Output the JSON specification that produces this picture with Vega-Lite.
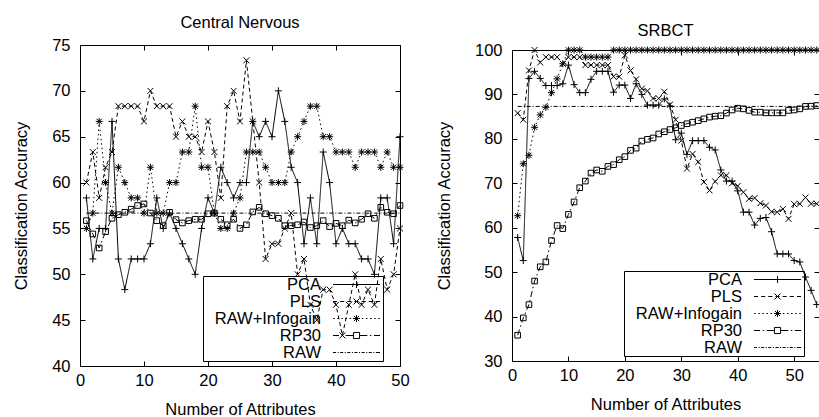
{
"$schema": "https://vega.github.io/schema/vega-lite/v6.json",
"padding": {"left": 13, "top": 14, "right": 0, "bottom": 0},
"background": "white",
"datasets": {
"cns": [
{"x":1,"v":58.33,"m":"PCA"},{"x":2,"v":51.67,"m":"PCA"},{"x":3,"v":55,"m":"PCA"},{"x":4,"v":55,"m":"PCA"},{"x":5,"v":66.67,"m":"PCA"},{"x":6,"v":51.67,"m":"PCA"},{"x":7,"v":48.33,"m":"PCA"},{"x":8,"v":51.67,"m":"PCA"},{"x":9,"v":51.67,"m":"PCA"},{"x":10,"v":51.67,"m":"PCA"},
{"x":11,"v":53.33,"m":"PCA"},{"x":12,"v":58.33,"m":"PCA"},{"x":13,"v":55,"m":"PCA"},{"x":14,"v":56.67,"m":"PCA"},{"x":15,"v":55,"m":"PCA"},{"x":16,"v":53.33,"m":"PCA"},{"x":17,"v":51.67,"m":"PCA"},{"x":18,"v":50,"m":"PCA"},{"x":19,"v":55,"m":"PCA"},{"x":20,"v":58.33,"m":"PCA"},
{"x":21,"v":56.67,"m":"PCA"},{"x":22,"v":61.67,"m":"PCA"},{"x":23,"v":60,"m":"PCA"},{"x":24,"v":58.33,"m":"PCA"},{"x":25,"v":60,"m":"PCA"},{"x":26,"v":60,"m":"PCA"},{"x":27,"v":66.67,"m":"PCA"},{"x":28,"v":65,"m":"PCA"},{"x":29,"v":66.67,"m":"PCA"},{"x":30,"v":65,"m":"PCA"},
{"x":31,"v":70,"m":"PCA"},{"x":32,"v":66.67,"m":"PCA"},{"x":33,"v":61.67,"m":"PCA"},{"x":34,"v":60,"m":"PCA"},{"x":35,"v":53.33,"m":"PCA"},{"x":36,"v":58.33,"m":"PCA"},{"x":37,"v":53.33,"m":"PCA"},{"x":38,"v":63.33,"m":"PCA"},{"x":39,"v":60,"m":"PCA"},{"x":40,"v":53.33,"m":"PCA"},
{"x":41,"v":55,"m":"PCA"},{"x":42,"v":53.33,"m":"PCA"},{"x":43,"v":53.33,"m":"PCA"},{"x":44,"v":51.67,"m":"PCA"},{"x":45,"v":51.67,"m":"PCA"},{"x":46,"v":50,"m":"PCA"},{"x":47,"v":58.33,"m":"PCA"},{"x":48,"v":58.33,"m":"PCA"},{"x":49,"v":53.33,"m":"PCA"},{"x":50,"v":65,"m":"PCA"},
{"x":1,"v":60,"m":"PLS"},{"x":2,"v":63.33,"m":"PLS"},{"x":3,"v":58.33,"m":"PLS"},{"x":4,"v":61.67,"m":"PLS"},{"x":5,"v":63.33,"m":"PLS"},{"x":6,"v":68.33,"m":"PLS"},{"x":7,"v":68.33,"m":"PLS"},{"x":8,"v":68.33,"m":"PLS"},{"x":9,"v":68.33,"m":"PLS"},{"x":10,"v":66.67,"m":"PLS"},
{"x":11,"v":70,"m":"PLS"},{"x":12,"v":68.33,"m":"PLS"},{"x":13,"v":68.33,"m":"PLS"},{"x":14,"v":68.33,"m":"PLS"},{"x":15,"v":65,"m":"PLS"},{"x":16,"v":66.67,"m":"PLS"},{"x":17,"v":65,"m":"PLS"},{"x":18,"v":65,"m":"PLS"},{"x":19,"v":63.33,"m":"PLS"},{"x":20,"v":66.67,"m":"PLS"},
{"x":21,"v":63.33,"m":"PLS"},{"x":22,"v":58.33,"m":"PLS"},{"x":23,"v":68.33,"m":"PLS"},{"x":24,"v":70,"m":"PLS"},{"x":25,"v":66.67,"m":"PLS"},{"x":26,"v":73.33,"m":"PLS"},{"x":27,"v":66.67,"m":"PLS"},{"x":28,"v":60,"m":"PLS"},{"x":29,"v":51.67,"m":"PLS"},{"x":30,"v":53.33,"m":"PLS"},
{"x":31,"v":53.33,"m":"PLS"},{"x":32,"v":55,"m":"PLS"},{"x":33,"v":56.67,"m":"PLS"},{"x":34,"v":50,"m":"PLS"},{"x":35,"v":51.67,"m":"PLS"},{"x":36,"v":46.67,"m":"PLS"},{"x":37,"v":45,"m":"PLS"},{"x":38,"v":48.33,"m":"PLS"},{"x":39,"v":48.33,"m":"PLS"},{"x":40,"v":46.67,"m":"PLS"},
{"x":41,"v":43.33,"m":"PLS"},{"x":42,"v":46.67,"m":"PLS"},{"x":43,"v":50,"m":"PLS"},{"x":44,"v":46.67,"m":"PLS"},{"x":45,"v":48.33,"m":"PLS"},{"x":46,"v":46.67,"m":"PLS"},{"x":47,"v":51.67,"m":"PLS"},{"x":48,"v":48.33,"m":"PLS"},{"x":49,"v":50,"m":"PLS"},{"x":50,"v":55,"m":"PLS"},
{"x":1,"v":55,"m":"RAW+Infogain"},{"x":2,"v":56.67,"m":"RAW+Infogain"},{"x":3,"v":66.67,"m":"RAW+Infogain"},{"x":4,"v":60,"m":"RAW+Infogain"},{"x":5,"v":56.67,"m":"RAW+Infogain"},{"x":6,"v":61.67,"m":"RAW+Infogain"},{"x":7,"v":60,"m":"RAW+Infogain"},{"x":8,"v":58.33,"m":"RAW+Infogain"},{"x":9,"v":58.33,"m":"RAW+Infogain"},{"x":10,"v":56.67,"m":"RAW+Infogain"},
{"x":11,"v":61.67,"m":"RAW+Infogain"},{"x":12,"v":56.67,"m":"RAW+Infogain"},{"x":13,"v":56.67,"m":"RAW+Infogain"},{"x":14,"v":60,"m":"RAW+Infogain"},{"x":15,"v":60,"m":"RAW+Infogain"},{"x":16,"v":63.33,"m":"RAW+Infogain"},{"x":17,"v":63.33,"m":"RAW+Infogain"},{"x":18,"v":68.33,"m":"RAW+Infogain"},{"x":19,"v":61.67,"m":"RAW+Infogain"},{"x":20,"v":61.67,"m":"RAW+Infogain"},
{"x":21,"v":56.67,"m":"RAW+Infogain"},{"x":22,"v":55,"m":"RAW+Infogain"},{"x":23,"v":55,"m":"RAW+Infogain"},{"x":24,"v":56.67,"m":"RAW+Infogain"},{"x":25,"v":58.33,"m":"RAW+Infogain"},{"x":26,"v":63.33,"m":"RAW+Infogain"},{"x":27,"v":63.33,"m":"RAW+Infogain"},{"x":28,"v":63.33,"m":"RAW+Infogain"},{"x":29,"v":61.67,"m":"RAW+Infogain"},{"x":30,"v":60,"m":"RAW+Infogain"},
{"x":31,"v":60,"m":"RAW+Infogain"},{"x":32,"v":60,"m":"RAW+Infogain"},{"x":33,"v":63.33,"m":"RAW+Infogain"},{"x":34,"v":65,"m":"RAW+Infogain"},{"x":35,"v":66.67,"m":"RAW+Infogain"},{"x":36,"v":68.33,"m":"RAW+Infogain"},{"x":37,"v":68.33,"m":"RAW+Infogain"},{"x":38,"v":65,"m":"RAW+Infogain"},{"x":39,"v":65,"m":"RAW+Infogain"},{"x":40,"v":63.33,"m":"RAW+Infogain"},
{"x":41,"v":63.33,"m":"RAW+Infogain"},{"x":42,"v":63.33,"m":"RAW+Infogain"},{"x":43,"v":61.67,"m":"RAW+Infogain"},{"x":44,"v":63.33,"m":"RAW+Infogain"},{"x":45,"v":63.33,"m":"RAW+Infogain"},{"x":46,"v":63.33,"m":"RAW+Infogain"},{"x":47,"v":61.67,"m":"RAW+Infogain"},{"x":48,"v":63.33,"m":"RAW+Infogain"},{"x":49,"v":61.67,"m":"RAW+Infogain"},{"x":50,"v":61.67,"m":"RAW+Infogain"},
{"x":1,"v":55.85,"m":"RP30"},{"x":2,"v":54.4,"m":"RP30"},{"x":3,"v":52.87,"m":"RP30"},{"x":4,"v":54.65,"m":"RP30"},{"x":5,"v":56.1,"m":"RP30"},{"x":6,"v":56.5,"m":"RP30"},{"x":7,"v":56.76,"m":"RP30"},{"x":8,"v":57.1,"m":"RP30"},{"x":9,"v":57.5,"m":"RP30"},{"x":10,"v":57.67,"m":"RP30"},
{"x":11,"v":56.68,"m":"RP30"},{"x":12,"v":55.85,"m":"RP30"},{"x":13,"v":55.3,"m":"RP30"},{"x":14,"v":56.76,"m":"RP30"},{"x":15,"v":55.96,"m":"RP30"},{"x":16,"v":55.6,"m":"RP30"},{"x":17,"v":55.85,"m":"RP30"},{"x":18,"v":56.0,"m":"RP30"},{"x":19,"v":56.0,"m":"RP30"},{"x":20,"v":56.6,"m":"RP30"},
{"x":21,"v":56.67,"m":"RP30"},{"x":22,"v":56.0,"m":"RP30"},{"x":23,"v":55.4,"m":"RP30"},{"x":24,"v":56.0,"m":"RP30"},{"x":25,"v":55.0,"m":"RP30"},{"x":26,"v":55.4,"m":"RP30"},{"x":27,"v":56.8,"m":"RP30"},{"x":28,"v":57.3,"m":"RP30"},{"x":29,"v":56.6,"m":"RP30"},{"x":30,"v":56.4,"m":"RP30"},
{"x":31,"v":56.1,"m":"RP30"},{"x":32,"v":55.3,"m":"RP30"},{"x":33,"v":55.3,"m":"RP30"},{"x":34,"v":55.4,"m":"RP30"},{"x":35,"v":55.7,"m":"RP30"},{"x":36,"v":55.1,"m":"RP30"},{"x":37,"v":55.3,"m":"RP30"},{"x":38,"v":55.85,"m":"RP30"},{"x":39,"v":55.2,"m":"RP30"},{"x":40,"v":55.55,"m":"RP30"},
{"x":41,"v":55.3,"m":"RP30"},{"x":42,"v":55.9,"m":"RP30"},{"x":43,"v":55.6,"m":"RP30"},{"x":44,"v":56.0,"m":"RP30"},{"x":45,"v":56.6,"m":"RP30"},{"x":46,"v":56.1,"m":"RP30"},{"x":47,"v":57.3,"m":"RP30"},{"x":48,"v":56.76,"m":"RP30"},{"x":49,"v":56.6,"m":"RP30"},{"x":50,"v":57.5,"m":"RP30"},
{"x":1,"v":56.67,"m":"RAW"},{"x":50,"v":56.67,"m":"RAW"}
],
"srbct": [
{"x":1,"v":57.8,"m":"PCA"},{"x":2,"v":52.6,"m":"PCA"},{"x":3,"v":93.6,"m":"PCA"},{"x":4,"v":95.2,"m":"PCA"},{"x":5,"v":93.6,"m":"PCA"},{"x":6,"v":92.0,"m":"PCA"},{"x":7,"v":92.0,"m":"PCA"},{"x":8,"v":92.0,"m":"PCA"},{"x":9,"v":92.4,"m":"PCA"},{"x":10,"v":96.6,"m":"PCA"},
{"x":11,"v":92.2,"m":"PCA"},{"x":12,"v":90.4,"m":"PCA"},{"x":13,"v":90.4,"m":"PCA"},{"x":14,"v":93.4,"m":"PCA"},{"x":15,"v":95.2,"m":"PCA"},{"x":16,"v":95.2,"m":"PCA"},{"x":17,"v":95.2,"m":"PCA"},{"x":18,"v":90.5,"m":"PCA"},{"x":19,"v":92.1,"m":"PCA"},{"x":20,"v":92.1,"m":"PCA"},
{"x":21,"v":89.1,"m":"PCA"},{"x":22,"v":92.4,"m":"PCA"},{"x":23,"v":90.0,"m":"PCA"},{"x":24,"v":87.6,"m":"PCA"},{"x":25,"v":87.6,"m":"PCA"},{"x":26,"v":87.6,"m":"PCA"},{"x":27,"v":89.0,"m":"PCA"},{"x":28,"v":87.4,"m":"PCA"},{"x":29,"v":79.8,"m":"PCA"},{"x":30,"v":81.3,"m":"PCA"},
{"x":31,"v":76.5,"m":"PCA"},{"x":32,"v":79.6,"m":"PCA"},{"x":33,"v":79.6,"m":"PCA"},{"x":34,"v":79.6,"m":"PCA"},{"x":35,"v":78.1,"m":"PCA"},{"x":36,"v":77.5,"m":"PCA"},{"x":37,"v":73.0,"m":"PCA"},{"x":38,"v":70.5,"m":"PCA"},{"x":39,"v":70.5,"m":"PCA"},{"x":40,"v":68.3,"m":"PCA"},
{"x":41,"v":63.5,"m":"PCA"},{"x":42,"v":63.5,"m":"PCA"},{"x":43,"v":60.6,"m":"PCA"},{"x":44,"v":62.1,"m":"PCA"},{"x":45,"v":62.3,"m":"PCA"},{"x":46,"v":59.1,"m":"PCA"},{"x":47,"v":54.1,"m":"PCA"},{"x":48,"v":54.1,"m":"PCA"},{"x":49,"v":54.1,"m":"PCA"},{"x":50,"v":52.6,"m":"PCA"},
{"x":51,"v":52.3,"m":"PCA"},{"x":52,"v":48.9,"m":"PCA"},{"x":53,"v":45.9,"m":"PCA"},{"x":54,"v":42.7,"m":"PCA"},
{"x":1,"v":85.8,"m":"PLS"},{"x":2,"v":84.3,"m":"PLS"},{"x":3,"v":95.4,"m":"PLS"},{"x":4,"v":100,"m":"PLS"},{"x":5,"v":97.2,"m":"PLS"},{"x":6,"v":98.4,"m":"PLS"},{"x":7,"v":98.4,"m":"PLS"},{"x":8,"v":98.4,"m":"PLS"},{"x":9,"v":96.9,"m":"PLS"},{"x":10,"v":98.4,"m":"PLS"},
{"x":11,"v":98.4,"m":"PLS"},{"x":12,"v":98.4,"m":"PLS"},{"x":13,"v":96.6,"m":"PLS"},{"x":14,"v":96.6,"m":"PLS"},{"x":15,"v":96.6,"m":"PLS"},{"x":16,"v":96.6,"m":"PLS"},{"x":17,"v":96.6,"m":"PLS"},{"x":18,"v":94.0,"m":"PLS"},{"x":19,"v":94.0,"m":"PLS"},{"x":20,"v":98.8,"m":"PLS"},
{"x":21,"v":95.4,"m":"PLS"},{"x":22,"v":93.4,"m":"PLS"},{"x":23,"v":91.3,"m":"PLS"},{"x":24,"v":90.8,"m":"PLS"},{"x":25,"v":89.1,"m":"PLS"},{"x":26,"v":89.1,"m":"PLS"},{"x":27,"v":90.6,"m":"PLS"},{"x":28,"v":87.7,"m":"PLS"},{"x":29,"v":84.3,"m":"PLS"},{"x":30,"v":79.6,"m":"PLS"},
{"x":31,"v":73.3,"m":"PLS"},{"x":32,"v":76.6,"m":"PLS"},{"x":33,"v":74.8,"m":"PLS"},{"x":34,"v":70.3,"m":"PLS"},{"x":35,"v":68.4,"m":"PLS"},{"x":36,"v":70.4,"m":"PLS"},{"x":37,"v":71.8,"m":"PLS"},{"x":38,"v":71.8,"m":"PLS"},{"x":39,"v":70.0,"m":"PLS"},{"x":40,"v":69.4,"m":"PLS"},
{"x":41,"v":68.0,"m":"PLS"},{"x":42,"v":66.5,"m":"PLS"},{"x":43,"v":66.7,"m":"PLS"},{"x":44,"v":65.5,"m":"PLS"},{"x":45,"v":65.0,"m":"PLS"},{"x":46,"v":63.6,"m":"PLS"},{"x":47,"v":63.5,"m":"PLS"},{"x":48,"v":64.2,"m":"PLS"},{"x":49,"v":62.0,"m":"PLS"},{"x":50,"v":65.3,"m":"PLS"},
{"x":51,"v":65.4,"m":"PLS"},{"x":52,"v":66.8,"m":"PLS"},{"x":53,"v":65.4,"m":"PLS"},{"x":54,"v":65.4,"m":"PLS"},
{"x":1,"v":62.7,"m":"RAW+Infogain"},{"x":2,"v":74.4,"m":"RAW+Infogain"},{"x":3,"v":76.3,"m":"RAW+Infogain"},{"x":4,"v":82.6,"m":"RAW+Infogain"},{"x":5,"v":85.4,"m":"RAW+Infogain"},{"x":6,"v":87.1,"m":"RAW+Infogain"},{"x":7,"v":90.4,"m":"RAW+Infogain"},{"x":8,"v":93.5,"m":"RAW+Infogain"},{"x":9,"v":96.9,"m":"RAW+Infogain"},{"x":10,"v":100,"m":"RAW+Infogain"},
{"x":11,"v":100,"m":"RAW+Infogain"},{"x":12,"v":100,"m":"RAW+Infogain"},{"x":13,"v":98.4,"m":"RAW+Infogain"},{"x":14,"v":98.4,"m":"RAW+Infogain"},{"x":15,"v":98.4,"m":"RAW+Infogain"},{"x":16,"v":98.4,"m":"RAW+Infogain"},{"x":17,"v":98.4,"m":"RAW+Infogain"},{"x":18,"v":100,"m":"RAW+Infogain"},{"x":19,"v":100,"m":"RAW+Infogain"},{"x":20,"v":100,"m":"RAW+Infogain"},
{"x":21,"v":100,"m":"RAW+Infogain"},{"x":22,"v":100,"m":"RAW+Infogain"},{"x":23,"v":100,"m":"RAW+Infogain"},{"x":24,"v":100,"m":"RAW+Infogain"},{"x":25,"v":100,"m":"RAW+Infogain"},{"x":26,"v":100,"m":"RAW+Infogain"},{"x":27,"v":100,"m":"RAW+Infogain"},{"x":28,"v":100,"m":"RAW+Infogain"},{"x":29,"v":100,"m":"RAW+Infogain"},{"x":30,"v":100,"m":"RAW+Infogain"},
{"x":31,"v":100,"m":"RAW+Infogain"},{"x":32,"v":100,"m":"RAW+Infogain"},{"x":33,"v":100,"m":"RAW+Infogain"},{"x":34,"v":100,"m":"RAW+Infogain"},{"x":35,"v":100,"m":"RAW+Infogain"},{"x":36,"v":100,"m":"RAW+Infogain"},{"x":37,"v":100,"m":"RAW+Infogain"},{"x":38,"v":100,"m":"RAW+Infogain"},{"x":39,"v":100,"m":"RAW+Infogain"},{"x":40,"v":100,"m":"RAW+Infogain"},
{"x":41,"v":100,"m":"RAW+Infogain"},{"x":42,"v":100,"m":"RAW+Infogain"},{"x":43,"v":100,"m":"RAW+Infogain"},{"x":44,"v":100,"m":"RAW+Infogain"},{"x":45,"v":100,"m":"RAW+Infogain"},{"x":46,"v":100,"m":"RAW+Infogain"},{"x":47,"v":100,"m":"RAW+Infogain"},{"x":48,"v":100,"m":"RAW+Infogain"},{"x":49,"v":100,"m":"RAW+Infogain"},{"x":50,"v":100,"m":"RAW+Infogain"},
{"x":51,"v":100,"m":"RAW+Infogain"},{"x":52,"v":100,"m":"RAW+Infogain"},{"x":53,"v":100,"m":"RAW+Infogain"},{"x":54,"v":100,"m":"RAW+Infogain"},
{"x":1,"v":35.8,"m":"RP30"},{"x":2,"v":39.7,"m":"RP30"},{"x":3,"v":42.7,"m":"RP30"},{"x":4,"v":48.0,"m":"RP30"},{"x":5,"v":51.2,"m":"RP30"},{"x":6,"v":52.3,"m":"RP30"},{"x":7,"v":57.1,"m":"RP30"},{"x":8,"v":60.5,"m":"RP30"},{"x":9,"v":59.8,"m":"RP30"},{"x":10,"v":63.0,"m":"RP30"},
{"x":11,"v":65.8,"m":"RP30"},{"x":12,"v":69.0,"m":"RP30"},{"x":13,"v":70.5,"m":"RP30"},{"x":14,"v":72.3,"m":"RP30"},{"x":15,"v":73.0,"m":"RP30"},{"x":16,"v":72.7,"m":"RP30"},{"x":17,"v":73.8,"m":"RP30"},{"x":18,"v":74.2,"m":"RP30"},{"x":19,"v":75.3,"m":"RP30"},{"x":20,"v":76.0,"m":"RP30"},
{"x":21,"v":77.4,"m":"RP30"},{"x":22,"v":77.9,"m":"RP30"},{"x":23,"v":79.5,"m":"RP30"},{"x":24,"v":79.9,"m":"RP30"},{"x":25,"v":80.2,"m":"RP30"},{"x":26,"v":81.1,"m":"RP30"},{"x":27,"v":81.6,"m":"RP30"},{"x":28,"v":82.1,"m":"RP30"},{"x":29,"v":82.5,"m":"RP30"},{"x":30,"v":83.0,"m":"RP30"},
{"x":31,"v":83.4,"m":"RP30"},{"x":32,"v":83.75,"m":"RP30"},{"x":33,"v":84.1,"m":"RP30"},{"x":34,"v":84.5,"m":"RP30"},{"x":35,"v":84.9,"m":"RP30"},{"x":36,"v":85.1,"m":"RP30"},{"x":37,"v":85.2,"m":"RP30"},{"x":38,"v":85.8,"m":"RP30"},{"x":39,"v":86.5,"m":"RP30"},{"x":40,"v":86.9,"m":"RP30"},
{"x":41,"v":86.75,"m":"RP30"},{"x":42,"v":86.4,"m":"RP30"},{"x":43,"v":86.0,"m":"RP30"},{"x":44,"v":86.0,"m":"RP30"},{"x":45,"v":85.85,"m":"RP30"},{"x":46,"v":85.85,"m":"RP30"},{"x":47,"v":85.85,"m":"RP30"},{"x":48,"v":85.85,"m":"RP30"},{"x":49,"v":86.4,"m":"RP30"},{"x":50,"v":86.5,"m":"RP30"},
{"x":51,"v":86.75,"m":"RP30"},{"x":52,"v":87.3,"m":"RP30"},{"x":53,"v":87.35,"m":"RP30"},{"x":54,"v":87.5,"m":"RP30"},
{"x":1,"v":87.3,"m":"RAW"},{"x":54.4,"v":87.3,"m":"RAW"}
]
},
"hconcat": [
{
"width": 320, "height": 321,
"title": {"text": "Central Nervous"},
"data": {"name": "cns"},
"layer": [
{"mark": {"type": "line", "color": "black", "strokeWidth": 1},
 "encoding": {
  "x": {"field": "x", "type": "quantitative", "title": "Number of Attributes", "scale": {"domain": [0, 50], "nice": false}, "axis": {"orient": "bottom", "values": [0,10,20,30,40,50], "labelPadding": 11, "titlePadding": 13}},
  "y": {"field": "v", "type": "quantitative", "title": "Classification Accuracy", "scale": {"domain": [40, 75], "nice": false, "zero": false}, "axis": {"orient": "left", "values": [40,45,50,55,60,65,70,75], "labelPadding": 15, "titlePadding": 22}},
  "strokeDash": {"field": "m", "type": "nominal", "scale": {"domain": ["PCA","PLS","RAW+Infogain","RP30","RAW"], "range": [[1,0],[4,3],[1.5,3],[6,3,1.5,3],[4,2,1,2]]}, "legend": null}
 }},
{"transform": [{"filter": "datum.m !== 'RAW'"}],
 "mark": {"type": "point", "filled": false, "color": "black", "strokeWidth": 1, "size": 49, "opacity": 1},
 "encoding": {
  "x": {"field": "x", "type": "quantitative", "axis": {"orient": "top", "labels": false, "title": null, "values": [0,10,20,30,40,50]}},
  "y": {"field": "v", "type": "quantitative", "axis": {"orient": "right", "labels": false, "title": null, "values": [40,45,50,55,60,65,70,75]}},
  "shape": {"field": "m", "type": "nominal", "scale": {"domain": ["PCA","PLS","RAW+Infogain","RP30"], "range": ["M-1,0H1M0,-1V1", "M-0.85,-0.85L0.85,0.85M-0.85,0.85L0.85,-0.85", "M-1,0H1M0,-1V1M-0.75,-0.75L0.75,0.75M-0.75,0.75L0.75,-0.75", "M-0.8,-0.8H0.8V0.8H-0.8Z"]}, "legend": null}
 }},
{"transform": [{"filter": "false"}],
 "mark": {"type": "point", "filled": false, "color": "black", "strokeWidth": 1, "opacity": 1},
 "encoding": {
  "shape": {"field": "m", "type": "nominal", "scale": {"domain": ["PCA","PLS","RAW+Infogain","RP30","RAW"], "range": [
   "M-2.94,0H2.94M0,-0.43V0.43",
   "M-2.94,0H-2.428M-2.046,0H-1.535M-1.15,0H-0.638M-0.256,0H0.256M0.638,0H1.15M1.535,0H2.046M2.428,0H2.94M-0.375,-0.375L0.375,0.375M-0.375,0.375L0.375,-0.375",
   "M-2.908,0H-2.72M-2.396,0H-2.208M-1.884,0H-1.696M-1.373,0H-1.185M-0.861,0H-0.673M-0.35,0H-0.162M0.162,0H0.35M0.673,0H0.861M1.185,0H1.373M1.696,0H1.884M2.208,0H2.396M2.72,0H2.908M-0.44,0H0.44M0,-0.44V0.44M-0.32,-0.32L0.32,0.32M-0.32,0.32L0.32,-0.32",
   "M-2.94,0H-2.176M-1.852,0H-1.676M-1.352,0H-0.382M0.382,0H1.352M1.676,0H1.852M2.176,0H2.94M-0.382,-0.382H0.382V0.382H-0.382Z",
   "M-2.94,0H-2.558M-2.367,0H-2.234M-2.046,0H-1.664M-1.47,0H-1.344M-1.152,0H-0.77M-0.576,0H-0.45M-0.259,0H0.123M0.318,0H0.444M0.635,0H1.017M1.211,0H1.338M1.529,0H1.911M2.105,0H2.231M2.423,0H2.94"
  ]}, "legend": {"orient": "none", "legendX": 123, "legendY": 231}}
 }}
],
"resolve": {"scale": {"shape": "independent"}, "axis": {"x": "independent", "y": "independent"}}
},
{
"width": 307, "height": 311,
"title": {"text": "SRBCT", "offset": 3},
"data": {"name": "srbct"},
"layer": [
{"mark": {"type": "line", "color": "black", "strokeWidth": 1},
 "encoding": {
  "x": {"field": "x", "type": "quantitative", "title": "Number of Attributes", "scale": {"domain": [0, 54.4], "nice": false}, "axis": {"orient": "bottom", "values": [0,10,20,30,40,50], "labelPadding": 11, "titlePadding": 13}},
  "y": {"field": "v", "type": "quantitative", "title": "Classification Accuracy", "scale": {"domain": [30, 100], "nice": false, "zero": false}, "axis": {"orient": "left", "values": [30,40,50,60,70,80,90,100], "labelPadding": 15, "titlePadding": 22}},
  "strokeDash": {"field": "m", "type": "nominal", "scale": {"domain": ["PCA","PLS","RAW+Infogain","RP30","RAW"], "range": [[1,0],[4,3],[1.5,3],[6,3,1.5,3],[4,2,1,2]]}, "legend": null}
 }},
{"transform": [{"filter": "datum.m !== 'RAW'"}],
 "mark": {"type": "point", "filled": false, "color": "black", "strokeWidth": 1, "size": 49, "opacity": 1},
 "encoding": {
  "x": {"field": "x", "type": "quantitative", "axis": {"orient": "top", "labels": false, "title": null, "values": [0,10,20,30,40,50]}},
  "y": {"field": "v", "type": "quantitative", "axis": {"orient": "right", "labels": false, "title": null, "values": [30,40,50,60,70,80,90,100]}},
  "shape": {"field": "m", "type": "nominal", "scale": {"domain": ["PCA","PLS","RAW+Infogain","RP30"], "range": ["M-1,0H1M0,-1V1", "M-0.85,-0.85L0.85,0.85M-0.85,0.85L0.85,-0.85", "M-1,0H1M0,-1V1M-0.75,-0.75L0.75,0.75M-0.75,0.75L0.75,-0.75", "M-0.8,-0.8H0.8V0.8H-0.8Z"]}, "legend": null}
 }},
{"transform": [{"filter": "false"}],
 "mark": {"type": "point", "filled": false, "color": "black", "strokeWidth": 1, "opacity": 1},
 "encoding": {
  "shape": {"field": "m", "type": "nominal", "scale": {"domain": ["PCA","PLS","RAW+Infogain","RP30","RAW"], "range": [
   "M-2.94,0H2.94M0,-0.43V0.43",
   "M-2.94,0H-2.428M-2.046,0H-1.535M-1.15,0H-0.638M-0.256,0H0.256M0.638,0H1.15M1.535,0H2.046M2.428,0H2.94M-0.375,-0.375L0.375,0.375M-0.375,0.375L0.375,-0.375",
   "M-2.908,0H-2.72M-2.396,0H-2.208M-1.884,0H-1.696M-1.373,0H-1.185M-0.861,0H-0.673M-0.35,0H-0.162M0.162,0H0.35M0.673,0H0.861M1.185,0H1.373M1.696,0H1.884M2.208,0H2.396M2.72,0H2.908M-0.44,0H0.44M0,-0.44V0.44M-0.32,-0.32L0.32,0.32M-0.32,0.32L0.32,-0.32",
   "M-2.94,0H-2.176M-1.852,0H-1.676M-1.352,0H-0.382M0.382,0H1.352M1.676,0H1.852M2.176,0H2.94M-0.382,-0.382H0.382V0.382H-0.382Z",
   "M-2.94,0H-2.558M-2.367,0H-2.234M-2.046,0H-1.664M-1.47,0H-1.344M-1.152,0H-0.77M-0.576,0H-0.45M-0.259,0H0.123M0.318,0H0.444M0.635,0H1.017M1.211,0H1.338M1.529,0H1.911M2.105,0H2.231M2.423,0H2.94"
  ]}, "legend": {"orient": "none", "legendX": 112, "legendY": 221}}
 }}
],
"resolve": {"scale": {"shape": "independent"}, "axis": {"x": "independent", "y": "independent"}}
}
],
"spacing": 112,
"bounds": "flush",
"center": true,
"config": {
 "font": "Liberation Sans",
 "view": {"stroke": "black", "strokeWidth": 1},
 "axis": {"grid": false, "domain": false, "tickColor": "black", "tickSize": -5, "tickWidth": 1, "labelColor": "black", "titleColor": "black", "labelFontSize": 16.5, "titleFontSize": 16.5, "titleFontWeight": "normal", "labelFlush": false, "labelOverlap": false},
 "title": {"fontSize": 16.5, "fontWeight": "normal", "color": "black", "offset": 6},
 "legend": {"title": null, "direction": "vertical", "strokeColor": "black", "strokeWidth": 1, "padding": 0, "symbolSize": 256, "symbolStrokeWidth": 1, "symbolStrokeColor": "black", "symbolFillColor": "transparent", "symbolOpacity": 1, "labelFont": "Liberation Sans", "labelFontSize": 16.5, "labelColor": "black", "labelAlign": "right", "labelOffset": -44, "symbolOffset": 145, "rowPadding": 0, "labelLimit": 300}
}
}
